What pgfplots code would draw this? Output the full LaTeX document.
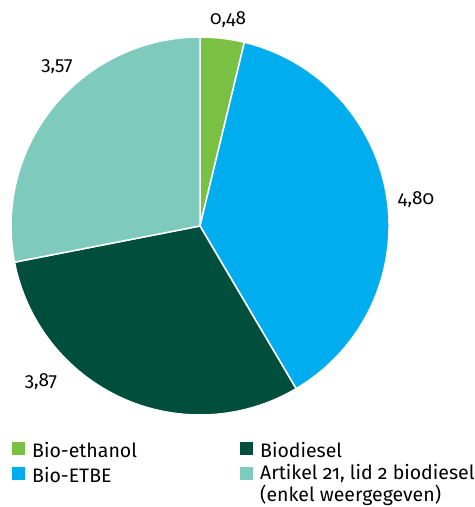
\documentclass[border=0pt]{standalone}
\usepackage{pgfplots}
\pgfplotsset{compat=1.18}
\usepackage{pgfplotstable}
\usepackage{fontspec}
\setmainfont{Fira Sans}[Numbers=OldStyle]
\definecolor{cEth}{HTML}{7AC143}
\definecolor{cEtbe}{HTML}{00ADEE}
\definecolor{cBio}{HTML}{004F3C}
\definecolor{cArt}{HTML}{7ECBBE}
\pgfplotstableread{
name value
ethanol 0.48
etbe 4.80
biodiesel 3.87
artikel 3.57
}\piedata
\pgfplotstablegetelem{0}{value}\of\piedata\let\vA\pgfplotsretval
\pgfplotstablegetelem{1}{value}\of\piedata\let\vB\pgfplotsretval
\pgfplotstablegetelem{2}{value}\of\piedata\let\vC\pgfplotsretval
\pgfplotstablegetelem{3}{value}\of\piedata\let\vD\pgfplotsretval
\pgfmathsetmacro\tot{\vA+\vB+\vC+\vD}
\pgfmathsetmacro\aA{90}
\pgfmathsetmacro\aB{\aA-360*\vA/\tot}
\pgfmathsetmacro\aC{\aB-360*\vB/\tot}
\pgfmathsetmacro\aD{\aC-360*\vC/\tot}
\pgfmathsetmacro\aE{\aD-360*\vD/\tot}
\begin{document}
\begin{tikzpicture}
\begin{axis}[x=1pt,y=1pt,xmin=0,xmax=470,ymin=0,ymax=507,hide axis,
  scale only axis,clip=false]
\path (axis cs:0,0) rectangle (axis cs:470,507);
\def\cx{200}\def\cy{281}\def\R{189pt}
\fill[cEth,draw=white,line width=1.5pt] (axis cs:\cx,\cy) -- ++(\aA:\R) arc[start angle=\aA,end angle=\aB,radius=\R] -- cycle;
\fill[cEtbe,draw=white,line width=1.5pt] (axis cs:\cx,\cy) -- ++(\aB:\R) arc[start angle=\aB,end angle=\aC,radius=\R] -- cycle;
\fill[cBio,draw=white,line width=1.5pt] (axis cs:\cx,\cy) -- ++(\aC:\R) arc[start angle=\aC,end angle=\aD,radius=\R] -- cycle;
\fill[cArt,draw=white,line width=1.5pt] (axis cs:\cx,\cy) -- ++(\aD:\R) arc[start angle=\aD,end angle=\aE,radius=\R] -- cycle;
\node[font=\fontsize{19}{22}\selectfont] at (axis cs:228,487) {0,48};
\node[font=\fontsize{19}{22}\selectfont] at (axis cs:416,307) {4,80};
\node[font=\fontsize{19}{22}\selectfont] at (axis cs:41,125) {3,87};
\node[font=\fontsize{19}{22}\selectfont] at (axis cs:57,440) {3,57};
% legend
\fill[cEth] (axis cs:12,52) rectangle (axis cs:25,65);
\fill[cEtbe] (axis cs:12,27) rectangle (axis cs:25,40);
\fill[cBio] (axis cs:240,52) rectangle (axis cs:253,65);
\fill[cArt] (axis cs:240,27) rectangle (axis cs:253,40);
\node[anchor=west,inner sep=0pt,font=\fontsize{19.5}{23}\selectfont] at (axis cs:32,57) {Bio-ethanol};
\node[anchor=west,inner sep=0pt,font=\fontsize{19.5}{23}\selectfont] at (axis cs:32,32) {Bio-ETBE};
\node[anchor=west,inner sep=0pt,font=\fontsize{19.5}{23}\selectfont] at (axis cs:260,57) {Biodiesel};
\node[anchor=north west,inner sep=0pt,align=left,font=\fontsize{19.5}{22.5}\selectfont] at (axis cs:260,43) {Artikel 21, lid 2 biodiesel\\(enkel weergegeven)};
\end{axis}
\end{tikzpicture}
\end{document}
